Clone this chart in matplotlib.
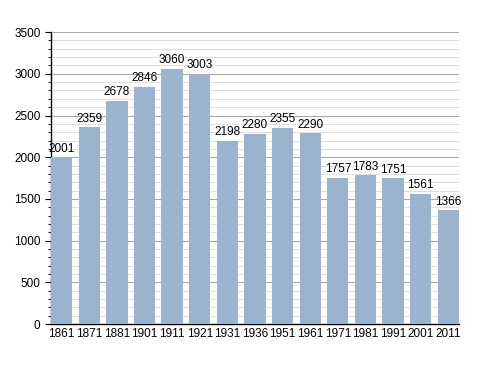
import matplotlib
matplotlib.use("Agg")
import matplotlib.pyplot as plt
from matplotlib.ticker import MultipleLocator

years = ["1861", "1871", "1881", "1901", "1911", "1921", "1931", "1936", "1951",
         "1961", "1971", "1981", "1991", "2001", "2011"]
population = [2001, 2359, 2678, 2846, 3060, 3003, 2198, 2280, 2355, 2290,
              1757, 1783, 1751, 1561, 1366]

plt.rcParams['font.family'] = ['Liberation Sans', 'DejaVu Sans']

fig = plt.figure(figsize=(4.88, 3.73), dpi=100)
ax = fig.add_axes([0.1045, 0.131, 0.836, 0.783])

x = list(range(len(years)))
w = 0.77
bars = ax.bar(x, population, width=w, color="#9ab3cf", zorder=3)
for xi, v in zip(x, population):
    ax.text(xi, v + 30, str(v), ha="center", va="bottom", fontsize=8.5, color="black", zorder=4)

ax.set_xlim(-w / 2, len(years) - 1 + w / 2)
ax.set_ylim(0, 3500)
ax.yaxis.set_major_locator(MultipleLocator(500))
ax.yaxis.set_minor_locator(MultipleLocator(100))
ax.grid(which="major", axis="y", color="#a8a8a8", linewidth=0.8, zorder=1)
ax.grid(which="minor", axis="y", color="#e0e0e0", linewidth=0.7, zorder=1)
ax.set_xticks(x)
ax.set_xticklabels(years, fontsize=8.5)
ax.tick_params(axis="y", labelsize=8.5, length=4, width=0.8)
ax.tick_params(axis="y", which="minor", length=2, width=0.6)
ax.tick_params(axis="x", length=0, pad=3)
for s in ["top", "right"]:
    ax.spines[s].set_visible(False)
ax.spines["left"].set_linewidth(1)
ax.spines["bottom"].set_linewidth(1)

fig.savefig("out.png", dpi=100)
